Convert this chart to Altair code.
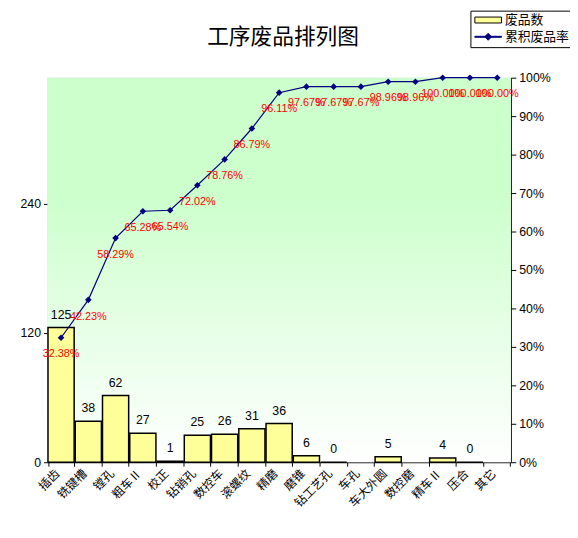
import altair as alt
import pandas as pd

categories = ["插齿", "铣键槽", "镗孔", "粗车Ⅱ", "校正", "钻销孔", "数控车", "滚螺纹", "精磨",
              "磨锥", "钻工艺孔", "车孔", "车大外圆", "数控磨", "精车Ⅱ", "压合", "其它"]
counts = [125, 38, 62, 27, 1, 25, 26, 31, 36, 6, 0, None, 5, None, 4, 0, None]
cum_pct = [32.38, 42.23, 58.29, 65.28, 65.54, 72.02, 78.76, 86.79, 96.11,
           97.67, 97.67, 97.67, 98.96, 98.96, 100.00, 100.00, 100.00]
left_ticks = [0, 120, 240]
right_ticks = [0, 0.1, 0.2, 0.3, 0.4, 0.5, 0.6, 0.7, 0.8, 0.9, 1.0]
series_names = ["废品数", "累积废品率"]

df = pd.DataFrame({
    "category": categories,
    "count": counts,
    "cum": [v / 100 for v in cum_pct],
    "cum_label": [f"{v:.2f}%" for v in cum_pct],
})

W, H = 470, 390
CJK = "Noto Sans CJK SC"
LAT = "Liberation Sans"
NAVY = "#000080"

x_axis = alt.Axis(title=None, labelAngle=315, labelAlign="right", labelBaseline="middle",
                  labelFont=CJK, labelFontSize=12, tickBand="extent", tickSize=4,
                  labelPadding=5, labelOffset=-4, domainColor="black", tickColor="black",
                  labelColor="black", labelOverlap=False)
x_scale = alt.Scale(domain=categories, paddingInner=0.04, paddingOuter=0.02)
x_enc = alt.X("category:N", sort=categories, scale=x_scale, axis=x_axis)

color_scale = alt.Scale(domain=series_names, range=["#ffff99", NAVY])
is_bar = "datum.value === '废品数'"
legend = alt.Legend(
    title=None, orient="none", legendX=429, legendY=-68,
    labelFont=CJK, labelFontSize=13, labelColor="black",
    strokeColor="black", fillColor="white", padding=3, rowPadding=3,
    symbolSize=100, labelOffset=10.5, symbolOffset=8.5,
    symbolType=alt.ExprRef(expr=f"{is_bar} ? 'M-2.7,-0.6H2.7V0.6H-2.7Z' : 'M-2.7,-0.1H2.7V0.1H-2.7ZM0,-0.7L0.7,0L0,0.7L-0.7,0Z'"),
    symbolStrokeColor=alt.ExprRef(expr=f"{is_bar} ? '#000000' : '{NAVY}'"),
    symbolStrokeWidth=1, symbolOpacity=1,
)

base = alt.Chart(df)

bg = alt.Chart(pd.DataFrame({"panel": [0]})).mark_rect(
    color=alt.Gradient(gradient="linear", x1=0, x2=0, y1=0, y2=1, stops=[
        alt.GradientStop(color="#ccffcc", offset=0),
        alt.GradientStop(color="#ccffcc", offset=0.3),
        alt.GradientStop(color="#e6ffe6", offset=0.65),
        alt.GradientStop(color="#ffffff", offset=1)])
).encode(x=alt.value(0), x2=alt.value(W), y=alt.value(0), y2=alt.value(H))

left_scale = alt.Scale(domain=[0, 357], nice=False, zero=True)
left_axis = alt.Axis(title=None, values=left_ticks, domain=False, grid=False,
                     tickSize=4, tickColor="black", labelFont=LAT, labelFontSize=12.5,
                     labelColor="black", labelPadding=3)
y_left = alt.Y("count:Q", scale=left_scale, axis=left_axis)

bars = base.transform_calculate(series="'废品数'").mark_bar(
    stroke="black", strokeWidth=1.5, opacity=1).encode(
    x=x_enc, y=y_left,
    color=alt.Color("series:N", scale=color_scale, legend=legend))

bar_text = base.mark_text(baseline="alphabetic", dy=-9, font=LAT, fontSize=12.5, color="black").encode(
    x=x_enc, y=y_left, text=alt.Text("count:Q"))

left = alt.layer(bars, bar_text)

right_scale = alt.Scale(domain=[0, 1], nice=False)
right_axis = alt.Axis(title=None, orient="right", values=right_ticks, format=".0%",
                      grid=False, tickSize=5, tickColor="black", domainColor="black",
                      labelFont=LAT, labelFontSize=12.5, labelColor="black",
                      labelPadding=3, labelOverlap=False)
y_right = alt.Y("cum:Q", scale=right_scale, axis=right_axis)

line = base.mark_line(strokeWidth=1.2, color=NAVY).encode(x=x_enc, y=y_right)

pts = base.mark_point(shape="diamond", filled=True, size=45, opacity=1, color=NAVY).encode(
    x=x_enc, y=y_right)

line_text = base.mark_text(baseline="middle", dy=17, font=LAT, fontSize=11, color="#ff0000").encode(
    x=x_enc, y=y_right, text="cum_label:N")

right = alt.layer(line, pts, line_text)

chart = alt.layer(bg, left, right).resolve_scale(y="independent").properties(
    width=W, height=H,
    title=alt.TitleParams("工序废品排列图", font=CJK, fontSize=22, fontWeight="normal",
                          anchor="middle", dx=4, offset=-49, baseline="middle", frame="group",
                          color="black"),
    autosize=alt.AutoSizeParams(type="none"),
    padding={"left": 40, "top": 67, "right": 60, "bottom": 63},
).configure_view(
    stroke="#808080", strokeWidth=1
).configure(background="white")

chart.save("out.html", embed_options={"renderer": "svg", "actions": False})
